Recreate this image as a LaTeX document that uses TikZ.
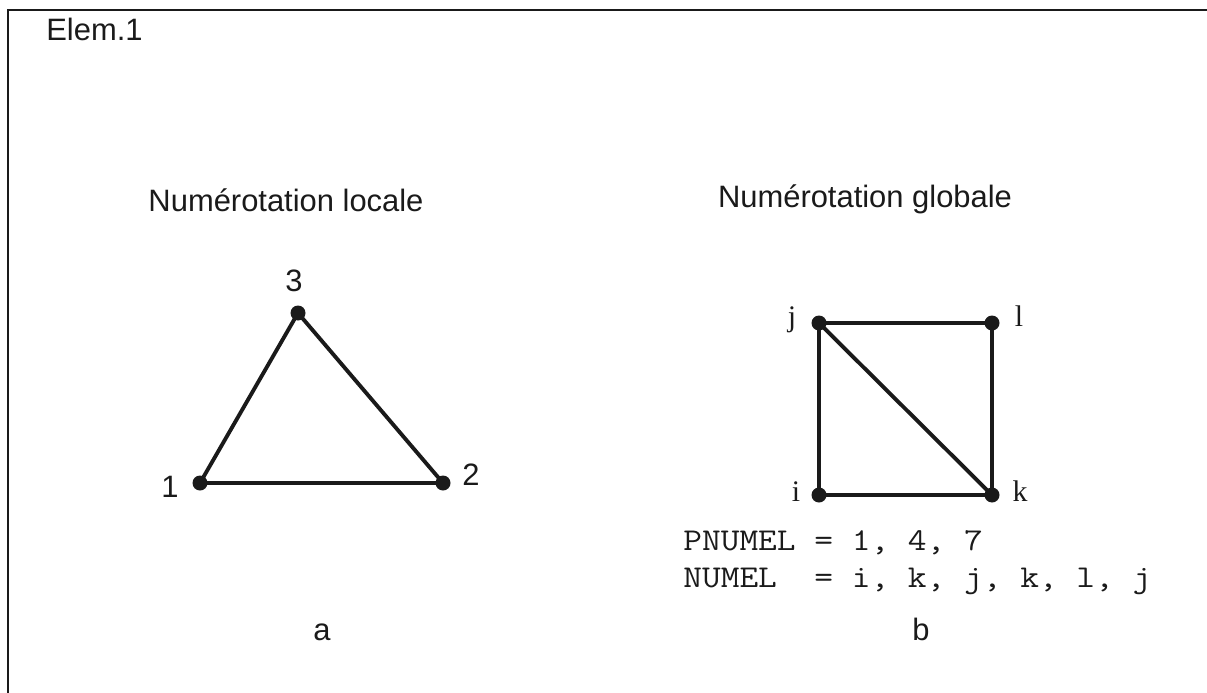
\documentclass[tikz,border=0pt]{standalone}
\usepackage{fontspec}
\setmainfont{Liberation Sans}
\setmonofont{Latin Modern Mono}[FakeStretch=1.143]
\newfontfamily\timesfont{Liberation Serif}
\usepackage{xcolor}
\definecolor{ink}{HTML}{1A1A1A}
\tikzset{
  vertex/.style   ={circle, fill=ink, inner sep=0pt, minimum size=0.3cm},
  meshedge/.style ={draw=ink, line width=2.2pt, line cap=round},
  framestyle/.style={draw=ink, line width=1.1pt},
  sanslab/.style  ={anchor=base, inner sep=0pt, text=ink,
                    font=\fontsize{17.6}{21}\selectfont},
  seriflab/.style ={anchor=base, inner sep=0pt, text=ink,
                    font=\timesfont\fontsize{17}{20}\selectfont},
  monolab/.style  ={anchor=base west, inner sep=0pt, text=ink,
                    font=\ttfamily\frenchspacing\fontsize{18.1}{22}\selectfont},
}

\begin{document}
\begin{tikzpicture}[x=0.02cm,y=-0.02cm]
  \useasboundingbox (0,0) rectangle (1207,693);
  \draw[framestyle] (1207,10) -- (8,10) -- (8,693);
  \node[sanslab,anchor=base west] (title) at (46,40) {Elem.1};

  % local numbering
  \node[sanslab] (loctitle) at (286,211) {Numérotation locale};
  \node[vertex] (n1) at (200,483) {};
  \node[vertex] (n2) at (443,483) {};
  \node[vertex] (n3) at (298,313) {};
  \draw[meshedge] (n1.center) -- (n2.center) -- (n3.center) -- cycle;
  \node[sanslab] (l1) at (170,497) {1};
  \node[sanslab] (l2) at (471,485) {2};
  \node[sanslab] (l3) at (294,291) {3};
  \node[sanslab] (capa) at (322,640) {a};

  % global numbering
  \node[sanslab] (globtitle) at (865,207) {Numérotation globale};
  \node[vertex] (vi) at (819,495) {};
  \node[vertex] (vj) at (819,323) {};
  \node[vertex] (vk) at (992,495) {};
  \node[vertex] (vl) at (992,323) {};
  \draw[meshedge] (vi.center) -- (vk.center) -- (vj.center) -- cycle;
  \draw[meshedge] (vk.center) -- (vl.center) -- (vj.center);
  \node[seriflab] (li) at (796,501) {i};
  \node[seriflab] (lj) at (792,326) {j};
  \node[seriflab] (lk) at (1020,501) {k};
  \node[seriflab] (ll) at (1019,326) {l};
  \node[monolab] (pnumel) at (683,550) {PNUMEL = 1, 4, 7};
  \node[monolab] (numel) at (683,587) {NUMEL\ \ = i, k, j, k, l, j};
  \node[sanslab] (capb) at (921,640) {b};
\end{tikzpicture}
\end{document}
